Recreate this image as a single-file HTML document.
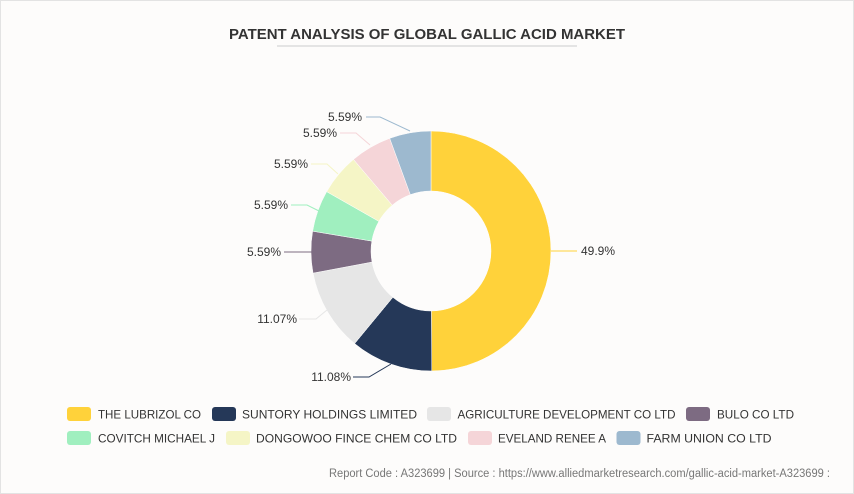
<!DOCTYPE html>
<html><head><meta charset="utf-8"><style>
html,body{margin:0;padding:0;}
body{width:854px;height:494px;overflow:hidden;background:#fdfcfb;font-family:"Liberation Sans",sans-serif;}
.frame{position:absolute;left:0;top:0;width:852px;height:492px;border:1px solid #e3e3e3;}
</style></head><body>
<div class="frame"></div>
<svg id="s" width="854" height="494" style="position:absolute;left:0;top:0" xmlns="http://www.w3.org/2000/svg" font-family="Liberation Sans, sans-serif">
<text x="427" y="39" text-anchor="middle" font-size="14.5" font-weight="bold" fill="#333" textLength="396" lengthAdjust="spacingAndGlyphs">PATENT ANALYSIS OF GLOBAL GALLIC ACID MARKET</text>
<line x1="277" y1="46" x2="577" y2="46" stroke="#ccc" stroke-width="1"/>
<g id="pie"></g>
<g fill="none" stroke-width="1">
<polyline points="551,251 577,251" stroke="#ffd23a"/>
<polyline points="353,377 369,377 391,364" stroke="#253858"/>
<polyline points="299,319 316,319 327,310" stroke="#e6e6e6"/>
<polyline points="284,252 312,252" stroke="#7d6b82"/>
<polyline points="291,205 307,205 319,211" stroke="#a0efbf"/>
<polyline points="311,164 327,164 338,174" stroke="#f5f5c6"/>
<polyline points="340,133 356,133 370,145" stroke="#f5d5d8"/>
<polyline points="366,117 380,117 410,131" stroke="#9db9cf"/>
</g>
<g font-size="12" fill="#333">
<text x="581" y="255">49.9%</text>
<text x="351" y="381" text-anchor="end">11.08%</text>
<text x="297" y="323" text-anchor="end">11.07%</text>
<text x="281" y="256" text-anchor="end">5.59%</text>
<text x="288" y="209" text-anchor="end">5.59%</text>
<text x="308" y="168" text-anchor="end">5.59%</text>
<text x="337" y="137" text-anchor="end">5.59%</text>
<text x="362" y="121" text-anchor="end">5.59%</text>
</g>
<g font-size="12" fill="#333" lengthAdjust="spacingAndGlyphs">
<rect x="67" y="407" width="24" height="14" rx="3" fill="#ffd23a"/><text x="98" y="418.5" textLength="103" lengthAdjust="spacingAndGlyphs">THE LUBRIZOL CO</text>
<rect x="212" y="407" width="24" height="14" rx="3" fill="#253858"/><text x="242" y="418.5" textLength="175" lengthAdjust="spacingAndGlyphs">SUNTORY HOLDINGS LIMITED</text>
<rect x="427" y="407" width="24" height="14" rx="3" fill="#e6e6e6"/><text x="457.5" y="418.5" textLength="218" lengthAdjust="spacingAndGlyphs">AGRICULTURE DEVELOPMENT CO LTD</text>
<rect x="686" y="407" width="24" height="14" rx="3" fill="#7d6b82"/><text x="717" y="418.5" textLength="77" lengthAdjust="spacingAndGlyphs">BULO CO LTD</text>
<rect x="67" y="431" width="24" height="14" rx="3" fill="#a0efbf"/><text x="98" y="442.5" textLength="117" lengthAdjust="spacingAndGlyphs">COVITCH MICHAEL J</text>
<rect x="226" y="431" width="24" height="14" rx="3" fill="#f5f5c6"/><text x="256" y="442.5" textLength="201" lengthAdjust="spacingAndGlyphs">DONGOWOO FINCE CHEM CO LTD</text>
<rect x="468" y="431" width="24" height="14" rx="3" fill="#f5d5d8"/><text x="498" y="442.5" textLength="108" lengthAdjust="spacingAndGlyphs">EVELAND RENEE A</text>
<rect x="616.5" y="431" width="24" height="14" rx="3" fill="#9db9cf"/><text x="646.5" y="442.5" textLength="125" lengthAdjust="spacingAndGlyphs">FARM UNION CO LTD</text>
</g>
<text x="830" y="477" text-anchor="end" font-size="11.5" fill="#777" textLength="501" lengthAdjust="spacingAndGlyphs">Report Code : A323699  |  Source : https://www.alliedmarketresearch.com/gallic-acid-market-A323699 :</text>
</svg>
<script>
(function(){
var cx=431,cy=251,R=120,r=60;
var d=[[49.9,"#ffd23a"],[11.08,"#253858"],[11.07,"#e6e6e6"],[5.59,"#7d6b82"],[5.59,"#a0efbf"],[5.59,"#f5f5c6"],[5.59,"#f5d5d8"],[5.59,"#9db9cf"]];
var tot=0;d.forEach(function(v){tot+=v[0];});
var a=0,g=document.getElementById("pie"),ns="http://www.w3.org/2000/svg";
function p(rad,ang){return [cx+rad*Math.sin(ang),cy-rad*Math.cos(ang)];}
d.forEach(function(v){
var a2=a+v[0]/tot*2*Math.PI,lg=(a2-a)>Math.PI?1:0;
var p1=p(R,a),p2=p(R,a2),p3=p(r,a2),p4=p(r,a);
var path=document.createElementNS(ns,"path");
path.setAttribute("d","M"+p1+" A"+R+","+R+" 0 "+lg+" 1 "+p2+" L"+p3+" A"+r+","+r+" 0 "+lg+" 0 "+p4+"Z");
path.setAttribute("fill",v[1]);path.setAttribute("stroke","#fff");path.setAttribute("stroke-width","0.5");
g.appendChild(path);a=a2;});
})();
</script>
</body></html>
